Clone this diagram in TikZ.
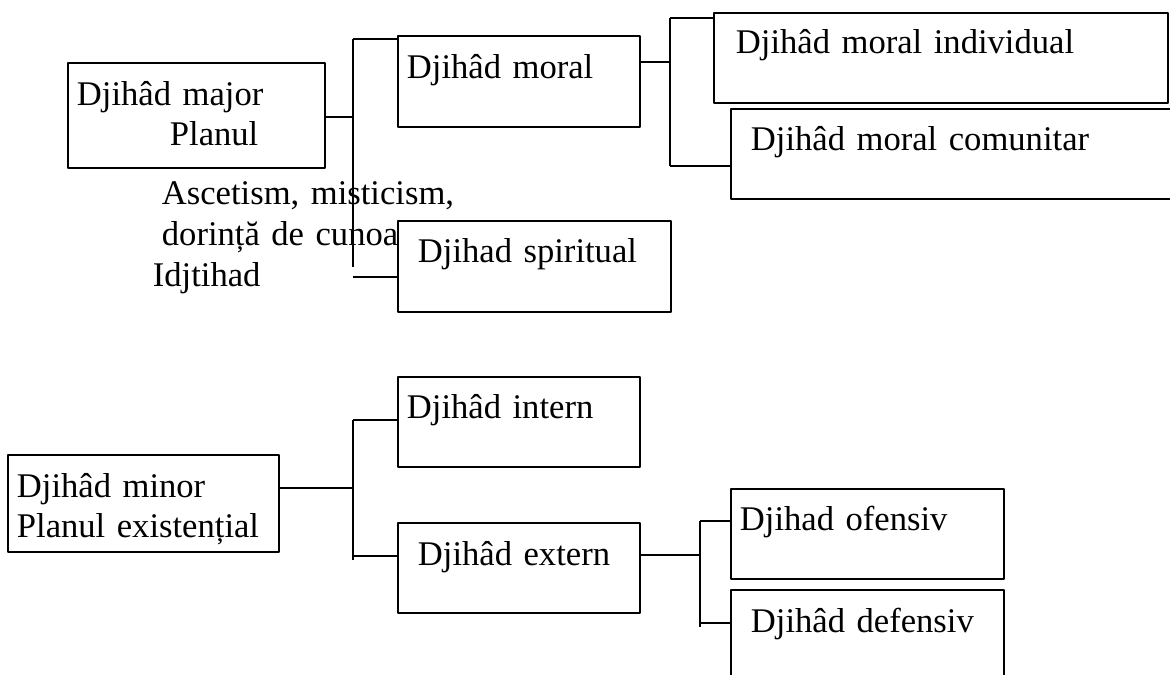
\documentclass[tikz,border=0pt]{standalone}
\usepackage{fontspec}
\setmainfont{Liberation Serif}
\begin{document}
\begin{tikzpicture}[line join=bevel,
  box/.style={draw,fill=white,anchor=north west,inner ysep=0pt,align=left,
    font=\fontsize{34.6bp}{40bp}\selectfont},
  freetext/.style={anchor=base west,inner sep=0pt,align=left,text width=400bp,
    font=\fontsize{34.6bp}{41bp}\selectfont}]
  \pgfsetlinewidth{1.8bp}
  \clip (0bp,0bp) rectangle (1170bp,675bp);
%%
  % Text: ascetism (partly under the spiritual box)
  \node[freetext] (ascetism) at (152bp,470bp) {\hspace*{9bp}Ascetism, misticism,\\\hspace*{9bp}dorință de cunoaștere\\Idjtihad};
  % Node: major
  \node[box,text width=239bp,inner xsep=9bp,text height=43bp,text depth=62bp] (major) at (67bp,613bp) {Djihâd major\\\hspace*{93bp}Planul};
  % Node: moral
  \node[box,text width=224bp,inner xsep=9bp,text height=43bp,text depth=48bp] (moral) at (397bp,640bp) {Djihâd moral};
  % Node: spiritual
  \node[box,text width=233bp,inner xsep=20bp,text height=42bp,text depth=49bp] (spiritual) at (397bp,455bp) {Djihad spiritual};
  % Node: individual
  \node[box,text width=410bp,inner xsep=22bp,text height=41bp,text depth=49bp] (individual) at (713bp,663bp) {Djihâd moral individual};
  % Node: comunitar
  \node[box,text width=415bp,inner xsep=20bp,text height=42bp,text depth=48bp] (comunitar) at (730bp,567bp) {Djihâd moral comunitar};
  % Node: minor
  \node[box,text width=253bp,inner xsep=9bp,text height=43bp,text depth=54bp] (minor) at (7bp,221bp) {Djihâd minor\\Planul existențial};
  % Node: intern
  \node[box,text width=224bp,inner xsep=9bp,text height=42bp,text depth=48bp] (intern) at (397bp,299bp) {Djihâd intern};
  % Node: extern
  \node[box,text width=202bp,inner xsep=20bp,text height=43bp,text depth=47bp] (extern) at (397bp,153bp) {Djihâd extern};
  % Node: ofensiv
  \node[box,text width=255bp,inner xsep=9bp,text height=42bp,text depth=48bp] (ofensiv) at (730bp,187bp) {Djihad ofensiv};
  % Node: defensiv
  \node[box,text width=233bp,inner xsep=20bp,text height=43bp,text depth=48bp] (defensiv) at (730bp,86bp) {Djihâd defensiv};
%%
  % Fork: major -> moral, spiritual
  \coordinate (f1top) at (353bp,636bp);
  \coordinate (f1mid) at (353bp,558bp);
  \coordinate (f1bot) at (353bp,408bp);
  \coordinate (f1low) at (353bp,398bp);
  \draw (f1top) -- (f1bot);
  % Edge: major -> moral
  \draw (major.east |- f1mid) -- (f1mid);
  \draw (f1top) -- (moral.west |- f1top);
  % Edge: major -> spiritual
  \draw (f1low) -- (spiritual.west |- f1low);
  % Fork: moral -> individual, comunitar
  \coordinate (f2top) at (670bp,657bp);
  \coordinate (f2mid) at (670bp,613bp);
  \coordinate (f2bot) at (670bp,509bp);
  \draw (f2top) -- (f2bot);
  % Edge: moral -> individual
  \draw (moral.east |- f2mid) -- (f2mid);
  \draw (f2top) -- (individual.west |- f2top);
  % Edge: moral -> comunitar
  \draw (f2bot) -- (comunitar.west |- f2bot);
  % Fork: minor -> intern, extern
  \coordinate (f3top) at (353bp,255bp);
  \coordinate (f3mid) at (353bp,187bp);
  \coordinate (f3low) at (353bp,119bp);
  \coordinate (f3bot) at (353bp,115bp);
  \draw (f3top) -- (f3bot);
  % Edge: minor -> intern
  \draw (minor.east |- f3mid) -- (f3mid);
  \draw (f3top) -- (intern.west |- f3top);
  % Edge: minor -> extern
  \draw (f3low) -- (extern.west |- f3low);
  % Fork: extern -> ofensiv, defensiv
  \coordinate (f4top) at (700bp,154bp);
  \coordinate (f4mid) at (700bp,120bp);
  \coordinate (f4low) at (700bp,52bp);
  \coordinate (f4bot) at (700bp,48bp);
  \draw (f4top) -- (f4bot);
  % Edge: extern -> ofensiv
  \draw (extern.east |- f4mid) -- (f4mid);
  \draw (f4top) -- (ofensiv.west |- f4top);
  % Edge: extern -> defensiv
  \draw (f4low) -- (defensiv.west |- f4low);
%
\end{tikzpicture}
\end{document}
